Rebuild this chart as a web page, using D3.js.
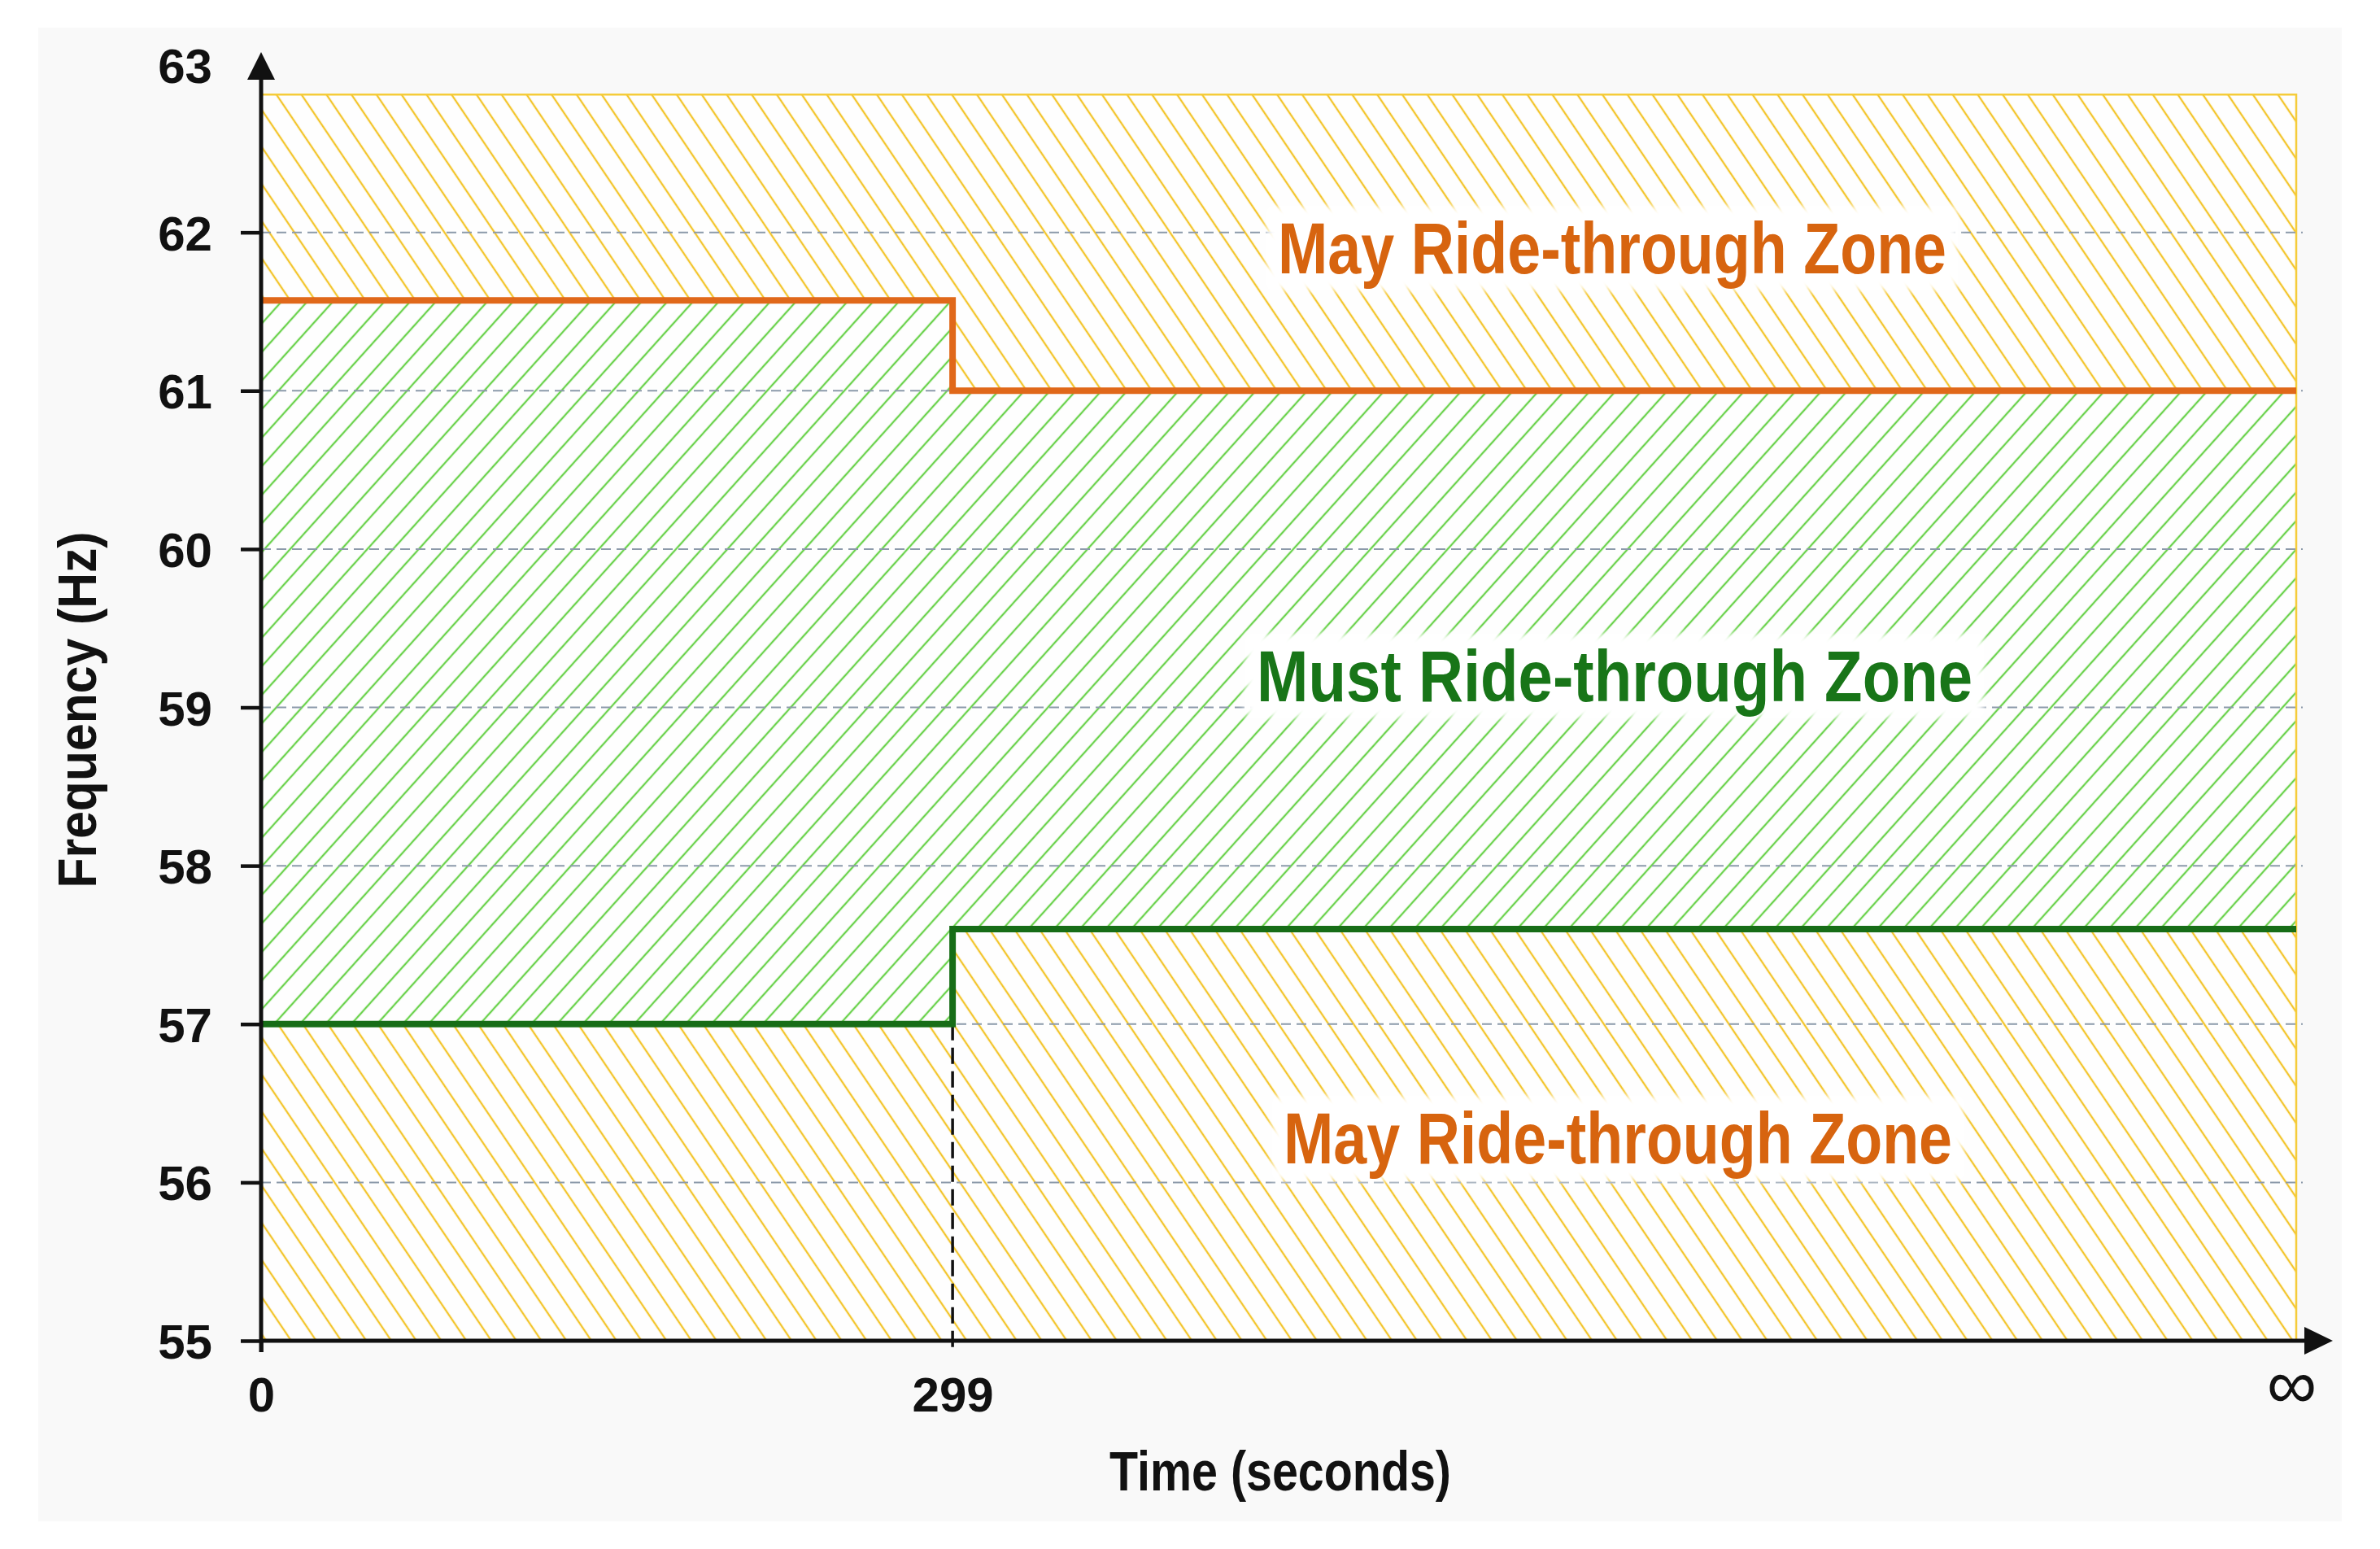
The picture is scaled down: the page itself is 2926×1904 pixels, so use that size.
<!DOCTYPE html>
<html>
<head>
<meta charset="utf-8">
<script src="https://cdn.jsdelivr.net/npm/d3@7"></script>
<style>
  html, body { margin: 0; padding: 0; background: #ffffff; }
  svg { display: block; }
  text { font-family: "Liberation Sans", Arial, Helvetica, sans-serif; }
</style>
</head>
<body>
<svg id="chart" width="2926" height="1904"></svg>
<script>
// ---------------- data ----------------
const timeBreaks   = [0, 299, 880];            // seconds; the last break is the "∞" end of the axis
const xTickValues  = [0, 299, 880];
const xTickLabels  = ["0", "299", "∞"];
const upperLimitHz = [61.57, 61.0, 61.0];      // upper must-ride-through boundary (step after each break)
const lowerLimitHz = [57.0, 57.6, 57.6];       // lower must-ride-through boundary
const yTicks       = [55, 56, 57, 58, 59, 60, 61, 62, 63];
const gridHz       = [56, 57, 58, 59, 60, 61, 62];
const zoneTopHz    = 62.87;
const zoneBottomHz = 55;
const zoneLabels   = ["May Ride-through Zone", "Must Ride-through Zone", "May Ride-through Zone"];
const xTitle = "Time (seconds)";
const yTitle = "Frequency (Hz)";

// ---------------- layout ----------------
const W = 2926, H = 1904;
const svg = d3.select("#chart");
const x = d3.scaleLinear().domain([0, 880]).range([321, 2823]);
const y = d3.scaleLinear().domain([55, 63]).range([1648, 91]);

const ORANGE_LINE = "#e0681a", GREEN_LINE = "#176d17";
const ORANGE_TEXT = "#d7640f", GREEN_TEXT = "#187518";
const YELLOW_HATCH = "#f3c52c", GREEN_HATCH = "#6ad24c";

// card background
svg.append("rect").attr("x", 0).attr("y", 0).attr("width", W).attr("height", H).attr("fill", "#ffffff");
svg.append("rect").attr("x", 47).attr("y", 34).attr("width", 2832).attr("height", 1836).attr("fill", "#f9f9f9");

// ---------------- patterns ----------------
const defs = svg.append("defs");
function hatch(id, color, spacing, angle, width) {
  const p = defs.append("pattern").attr("id", id)
    .attr("patternUnits", "userSpaceOnUse")
    .attr("width", spacing).attr("height", spacing)
    .attr("patternTransform", `rotate(${angle})`);
  p.append("rect").attr("width", spacing).attr("height", spacing).attr("fill", "#fefefe");
  p.append("line").attr("x1", spacing / 2).attr("y1", -1).attr("x2", spacing / 2).attr("y2", spacing + 1)
    .attr("stroke", color).attr("stroke-width", width);
}
hatch("hatchYellow", YELLOW_HATCH, 25.5, -34, 2.3);
hatch("hatchGreen", GREEN_HATCH, 23.5, 42, 2.3);

const blur = defs.append("filter").attr("id", "soft").attr("x", "-10%").attr("y", "-30%").attr("width", "120%").attr("height", "160%");
blur.append("feGaussianBlur").attr("stdDeviation", 5);

// ---------------- zones ----------------
const pts = timeBreaks.map((t, i) => ({ t, up: upperLimitHz[i], lo: lowerLimitHz[i] }));

const areaUpper = d3.area().curve(d3.curveStepAfter)
  .x(d => x(d.t)).y0(d => y(d.up)).y1(() => y(zoneTopHz));
const areaMust = d3.area().curve(d3.curveStepAfter)
  .x(d => x(d.t)).y0(d => y(d.lo)).y1(d => y(d.up));
const areaLower = d3.area().curve(d3.curveStepAfter)
  .x(d => x(d.t)).y0(() => y(zoneBottomHz)).y1(d => y(d.lo));

const zones = svg.append("g");
zones.append("path").attr("d", areaUpper(pts)).attr("fill", "url(#hatchYellow)");
zones.append("path").attr("d", areaMust(pts)).attr("fill", "url(#hatchGreen)");
zones.append("path").attr("d", areaLower(pts)).attr("fill", "url(#hatchYellow)");

// thin yellow frame (top and right edges)
const tEnd = timeBreaks[timeBreaks.length - 1];
svg.append("path")
  .attr("d", d3.line()([[x(0), y(zoneTopHz)], [x(tEnd), y(zoneTopHz)], [x(tEnd), y(zoneBottomHz)]]))
  .attr("fill", "none").attr("stroke", "#f5cc3a").attr("stroke-width", 2.5);

// ---------------- grid ----------------
svg.append("g").selectAll("line").data(gridHz).join("line")
  .attr("x1", x(0)).attr("x2", x(tEnd) + 8)
  .attr("y1", d => y(d)).attr("y2", d => y(d))
  .attr("stroke", "#8c9aaa").attr("stroke-width", 2)
  .attr("stroke-dasharray", "12,7");

// ---------------- zone labels with soft white boxes ----------------
const labelX = (x(timeBreaks[1]) + x(tEnd)) / 2 - 12;
const labelSpecs = [
  { text: zoneLabels[0], hz: 61.74, color: ORANGE_TEXT, len: 822, dx: -3 },
  { text: zoneLabels[1], hz: 59.04, color: GREEN_TEXT,  len: 880, dx: 0 },
  { text: zoneLabels[2], hz: 56.12, color: ORANGE_TEXT, len: 822, dx: 4 }
];
const labG = svg.append("g");
labelSpecs.forEach(s => {
  const cx = labelX + s.dx;
  const g = labG.append("g");
  const r = g.append("rect");
  const t = g.append("text")
    .attr("x", cx).attr("y", y(s.hz))
    .attr("text-anchor", "middle")
    .attr("font-size", 89).attr("font-weight", "bold")
    .attr("fill", s.color)
    .attr("textLength", s.len).attr("lengthAdjust", "spacingAndGlyphs")
    .text(s.text);
  const b = t.node().getBBox();
  r.attr("x", cx - s.len / 2 - 14).attr("y", b.y - 2)
    .attr("width", s.len + 28).attr("height", b.height + 4)
    .attr("fill", "#ffffff").attr("filter", "url(#soft)");
});

// ---------------- boundary step lines ----------------
const stepUpper = d3.line().curve(d3.curveStepAfter).x(d => x(d.t)).y(d => y(d.up));
const stepLower = d3.line().curve(d3.curveStepAfter).x(d => x(d.t)).y(d => y(d.lo));

// vertical dashed marker at the 299 s break
svg.append("line")
  .attr("x1", x(timeBreaks[1])).attr("x2", x(timeBreaks[1]))
  .attr("y1", y(lowerLimitHz[0])).attr("y2", y(zoneBottomHz) + 14)
  .attr("stroke", "#111").attr("stroke-width", 3.5).attr("stroke-dasharray", "20,9");

svg.append("path").attr("d", stepUpper(pts))
  .attr("fill", "none").attr("stroke", ORANGE_LINE).attr("stroke-width", 8)
  .attr("stroke-linejoin", "miter");
svg.append("path").attr("d", stepLower(pts))
  .attr("fill", "none").attr("stroke", GREEN_LINE).attr("stroke-width", 8)
  .attr("stroke-linejoin", "miter");

// ---------------- axes ----------------
const yAxis = d3.axisLeft(y).tickValues(yTicks).tickSize(25).tickPadding(35).tickFormat(d3.format("d"));
const gy = svg.append("g").attr("transform", `translate(${x(0)},0)`).call(yAxis);
gy.select(".domain").remove();
gy.selectAll(".tick line").attr("stroke", "#111").attr("stroke-width", 4.5)
  .filter(d => d === 63).remove();
gy.selectAll(".tick text")
  .attr("font-size", 60).attr("font-weight", "bold").attr("fill", "#111")
  .attr("font-family", "\"Liberation Sans\", Arial, sans-serif")
  .attr("dy", "0.36em");
gy.selectAll(".tick").filter(d => d === 63).select("text").attr("dy", "0.18em");

const xAxis = d3.axisBottom(x).tickValues(xTickValues).tickSize(14).tickPadding(30)
  .tickFormat((d, i) => xTickLabels[i]);
const gx = svg.append("g").attr("transform", `translate(0,${y(zoneBottomHz)})`).call(xAxis);
gx.select(".domain").remove();
gx.selectAll(".tick line").attr("stroke", "#111").attr("stroke-width", 4.5)
  .filter(d => d !== 0).remove();
gx.selectAll(".tick text")
  .attr("font-size", 60).attr("font-weight", "bold").attr("fill", "#111")
  .attr("font-family", "\"Liberation Sans\", Arial, sans-serif");
gx.selectAll(".tick").filter(d => d === tEnd).select("text")
  .attr("font-weight", "normal").attr("font-size", 86)
  .attr("font-family", "\"DejaVu Sans\", sans-serif")
  .attr("dx", "-0.07em").attr("dy", "0.45em");

// axis lines with arrowheads
const axisG = svg.append("g");
axisG.append("line")
  .attr("x1", x(0)).attr("x2", x(0))
  .attr("y1", y(zoneBottomHz) + 14).attr("y2", 94)
  .attr("stroke", "#111").attr("stroke-width", 5);
axisG.append("path")
  .attr("d", d3.line()([[x(0) - 17, 98], [x(0), 64], [x(0) + 17, 98]]) + "Z")
  .attr("fill", "#111");
axisG.append("line")
  .attr("x1", x(0) - 2).attr("x2", 2838)
  .attr("y1", y(zoneBottomHz)).attr("y2", y(zoneBottomHz))
  .attr("stroke", "#111").attr("stroke-width", 5);
axisG.append("path")
  .attr("d", d3.line()([[2833, y(zoneBottomHz) - 17], [2868, y(zoneBottomHz)], [2833, y(zoneBottomHz) + 17]]) + "Z")
  .attr("fill", "#111");

// ---------------- titles ----------------
svg.append("text")
  .attr("x", (x(0) + x(tEnd)) / 2 + 2).attr("y", 1832)
  .attr("text-anchor", "middle")
  .attr("font-size", 68).attr("font-weight", "bold").attr("fill", "#111")
  .attr("textLength", 420).attr("lengthAdjust", "spacingAndGlyphs")
  .text(xTitle);

svg.append("text")
  .attr("transform", `translate(118, ${(y(55) + y(63)) / 2 + 3}) rotate(-90)`)
  .attr("text-anchor", "middle")
  .attr("font-size", 66).attr("font-weight", "bold").attr("fill", "#111")
  .attr("textLength", 438).attr("lengthAdjust", "spacingAndGlyphs")
  .text(yTitle);
</script>
</body>
</html>
